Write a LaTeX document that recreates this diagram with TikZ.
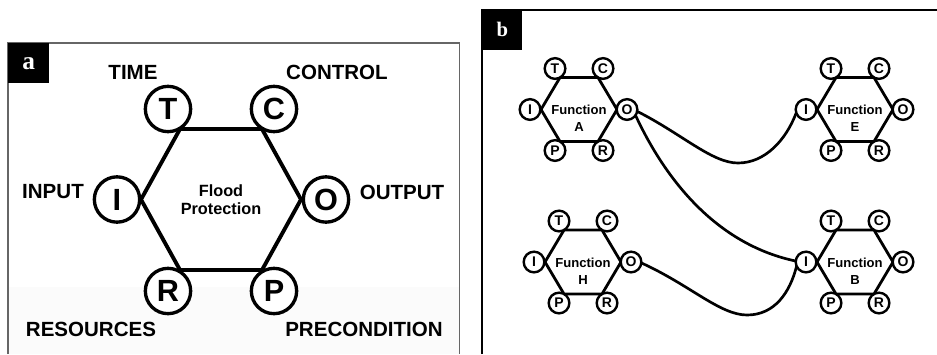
\documentclass[tikz,border=0pt]{standalone}
\usepackage{fontspec}
\setmainfont{Liberation Sans}
\newfontfamily\tagfont{Liberation Serif}
\tikzset{
  % large IDEF0-style function in panel a
  bigedge/.style={line width=2.9pt, line join=miter},
  bigport/.style={circle, draw, line width=2.5pt, fill=white, minimum size=34pt,
    inner sep=0pt, font=\fontsize{23}{24}\selectfont\bfseries},
  aspect/.style={font=\fontsize{15.4}{17}\selectfont\bfseries, inner sep=0pt},
  bigtext/.style={align=center, font=\fontsize{12.2}{13.5}\selectfont\bfseries, inner sep=0pt},
  % small functions in panel b
  hexedge/.style={line width=2.1pt, line join=miter},
  port/.style={circle, draw, line width=1.8pt, fill=white, minimum size=15.5pt,
    inner sep=0pt, font=\fontsize{10.5}{11}\selectfont\bfseries},
  fntext/.style={align=center, font=\fontsize{9.8}{12.4}\selectfont\bfseries, inner sep=0pt},
  link/.style={line width=2pt},
  % panel tags
  tagbox/.style={fill=black, text=white, inner sep=0pt, anchor=north west},
}
% one small function hexagon with its six aspects: name, x, y, label
\newcommand{\fnhex}[4]{%
  \begin{scope}[shift={(#2,#3)}]
    \draw[hexedge] (-38,0) -- (-19,-32) -- (19,-32) -- (38,0) -- (19,32) -- (-19,32) -- cycle;
    \node[fntext] (#1) at (0,9) {Function\\#4};
    \node[port] (#1-T) at (-24,-41) {T};
    \node[port] (#1-C) at (24,-41) {C};
    \node[port] (#1-I) at (-49,0) {I};
    \node[port] (#1-O) at (48,0) {O};
    \node[port] (#1-P) at (-24,41) {P};
    \node[port] (#1-R) at (24,41) {R};
  \end{scope}}
\begin{document}
\begin{tikzpicture}[x=0.75pt, y=-0.75pt]
\useasboundingbox (0,0) rectangle (937,354);

% ---------- panel a ----------
\fill[black!1.5] (8,287) rectangle (459.5,354);
\draw[black!60, line width=0.8pt] (8,354) -- (8,43) -- (459.5,43) -- (459.5,354);
\node[tagbox, minimum width=30.75pt, minimum height=30pt] (taga) at (8,43)
  {\tagfont\fontsize{19}{20}\selectfont\bfseries a};

\begin{scope}[shift={(221,199.5)}]
  \draw[bigedge] (-80,0) -- (-41,-70.5) -- (41,-70.5) -- (80,0) -- (41,70.5) -- (-41,70.5) -- cycle;
  \node[bigtext] (flood) at (0,0) {Flood\\Protection};
  \node[bigport] (T) at (-53,-90.5) {T};
  \node[bigport] (C) at (53,-90.5) {C};
  \node[bigport] (I) at (-104,0) {I};
  \node[bigport] (O) at (105,0) {O};
  \node[bigport] (R) at (-53,91.5) {R};
  \node[bigport] (P) at (53,91.5) {P};
\end{scope}
\node[aspect] (time) at (133,72) {TIME};
\node[aspect] (control) at (337,72) {CONTROL};
\node[aspect] (input) at (53,192) {INPUT};
\node[aspect] (output) at (402,192) {OUTPUT};
\node[aspect] (resources) at (91,329) {RESOURCES};
\node[aspect] (precondition) at (364,329) {PRECONDITION};

% ---------- panel b ----------
\draw[line width=1.5pt] (482,354) -- (482,9.5) -- (937,9.5);
\node[tagbox, minimum width=30pt, minimum height=30pt] (tagb) at (482,9.5)
  {\tagfont\fontsize{15.5}{16}\selectfont\bfseries b};

% couplings between functions (drawn first so the aspect circles cover their ends)
\coordinate (vAE) at (738,163);
\coordinate (vHB) at (747,315);
\coordinate (oA1) at (637.1,111.3);
\coordinate (oA2) at (635.6,115.5);
\coordinate (iE)  at (796.1,113.1);
\coordinate (iB1) at (795.5,261);
\coordinate (oH)  at (641.5,263);
\coordinate (iB2) at (796.5,266.4);
\draw[link] (oA1) .. controls (682,134) and (712,163) .. (vAE)
                  .. controls (765,163) and (786,140) .. (iE);
\draw[link] (oA2) .. controls (668,185) and (720,245) .. (iB1);
\draw[link] (oH) .. controls (690,285) and (720,315) .. (vHB)
                 .. controls (775,315) and (790,292) .. (iB2);

\fnhex{A}{579}{109.5}{A}
\fnhex{E}{855}{109.5}{E}
\fnhex{H}{583}{262}{H}
\fnhex{B}{855}{262}{B}
\end{tikzpicture}
\end{document}
